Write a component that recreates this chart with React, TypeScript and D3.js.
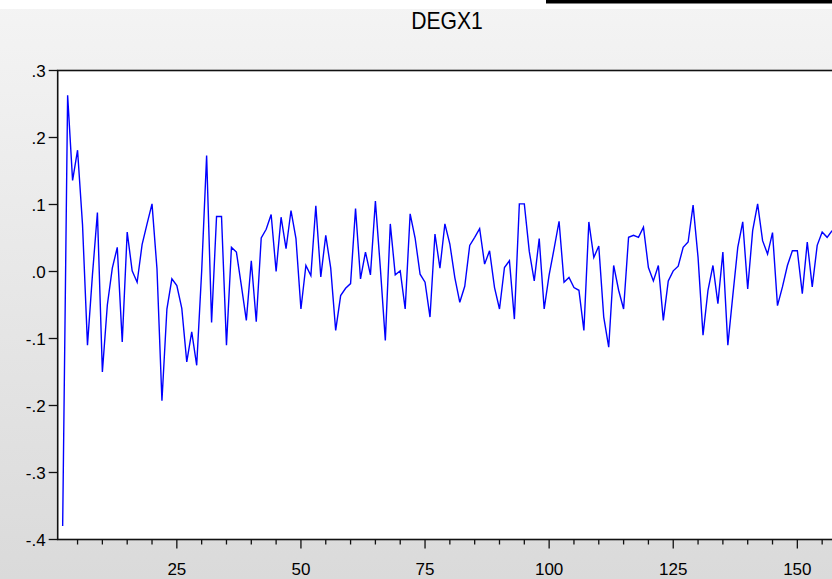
import React from "react";
import * as d3 from "d3";

// Series DEGX1, observations 2..157
const firstObs = 2;
const degx1: number[] = [
  -0.38, 0.263, 0.136, 0.181, 0.07, -0.11, -0.005, 0.088, -0.15, -0.05,
  0.005, 0.036, -0.105, 0.059, 0.001, -0.016, 0.04, 0.071, 0.101, 0.004,
  -0.193, -0.056, -0.011, -0.021, -0.055, -0.135, -0.09, -0.14, 0.0, 0.173,
  -0.076, 0.082, 0.082, -0.11, 0.036, 0.029, -0.021, -0.073, 0.016, -0.075,
  0.05, 0.063, 0.085, 0.0, 0.081, 0.034, 0.091, 0.049, -0.056, 0.009,
  -0.006, 0.098, -0.008, 0.054, 0.005, -0.088, -0.036, -0.025, -0.018, 0.094,
  -0.011, 0.029, -0.005, 0.105, 0.005, -0.103, 0.071, -0.005, 0.001, -0.056,
  0.086, 0.05, -0.004, -0.016, -0.068, 0.056, 0.005, 0.071, 0.041, -0.009,
  -0.046, -0.022, 0.039, 0.051, 0.064, 0.011, 0.031, -0.024, -0.056, 0.006,
  0.016, -0.071, 0.101, 0.101, 0.03, -0.014, 0.049, -0.056, -0.005, 0.034,
  0.075, -0.016, -0.009, -0.024, -0.028, -0.088, 0.074, 0.021, 0.038, -0.068,
  -0.113, 0.009, -0.028, -0.056, 0.051, 0.054, 0.051, 0.066, 0.006, -0.014,
  0.009, -0.073, -0.014, 0.001, 0.008, 0.036, 0.044, 0.099, 0.021, -0.095,
  -0.028, 0.009, -0.048, 0.029, -0.11, -0.036, 0.036, 0.074, -0.026, 0.061,
  0.101, 0.046, 0.026, 0.058, -0.051, -0.023, 0.009, 0.031, 0.031, -0.033,
  0.044, -0.023, 0.039, 0.059, 0.051, 0.061,
];

const yTicks = [0.3, 0.2, 0.1, 0.0, -0.1, -0.2, -0.3, -0.4];
const xMajorTicks = [25, 50, 75, 100, 125, 150];
const title = "DEGX1";

const W = 832;
const H = 579;

export default function App() {
  const x = d3.scaleLinear().domain([1, 165]).range([57.7, 871.8]);
  const y = d3.scaleLinear().domain([-0.4, 0.3]).range([539.5, 70.5]);

  const pts = degx1.map((v, i) => [firstObs + i, v] as [number, number]);
  const line = d3
    .line<[number, number]>()
    .x((d) => x(d[0]))
    .y((d) => y(d[1]));

  const minorTicks = d3.range(5, 166, 5).filter((t) => t % 25 !== 0);
  const fmt = (v: number) => {
    const s = Math.abs(v).toFixed(1).replace(/^0/, "");
    return v < -1e-9 ? "-" + s : s;
  };

  const x0 = x(1);
  const x1 = x(165);
  const yTop = y(0.3);
  const yBot = y(-0.4);
  const font = "'Liberation Sans', Arial, sans-serif";

  return (
    <div style={{ position: "fixed", left: 0, top: 0, width: W, height: H, overflow: "hidden" }}>
      <svg width={W} height={H} style={{ display: "block" }}>
        <defs>
          <linearGradient id="bg" x1="0" y1="0" x2="0" y2="1">
            <stop offset="0" stopColor="#f4f4f4" />
            <stop offset="1" stopColor="#dadada" />
          </linearGradient>
          <clipPath id="plotClip">
            <rect x={x0} y={yTop} width={x1 - x0} height={yBot - yTop} />
          </clipPath>
        </defs>
        <rect x={0} y={0} width={W} height={H} fill="url(#bg)" />
        <rect x={0} y={0} width={W} height={9} fill="#ffffff" />
        <rect x={546} y={0} width={W - 546} height={3.5} fill="#000000" />

        <text
          x={447}
          y={29}
          textAnchor="middle"
          fontFamily={font}
          fontSize={23}
          fill="#000"
          transform="translate(447 0) scale(0.92 1) translate(-447 0)"
        >
          {title}
        </text>

        <rect x={x0} y={yTop} width={x1 - x0} height={yBot - yTop} fill="#ffffff" />

        <g clipPath="url(#plotClip)">
          <path d={line(pts) ?? ""} fill="none" stroke="#0000ff" strokeWidth={1.4} />
        </g>

        <rect
          x={x0}
          y={yTop}
          width={x1 - x0}
          height={yBot - yTop}
          fill="none"
          stroke="#111"
          strokeWidth={1.6}
        />

        {yTicks.map((t) => (
          <g key={"y" + t}>
            <line x1={x0 - 9} x2={x0} y1={y(t)} y2={y(t)} stroke="#111" strokeWidth={1.3} />
            <text
              x={x0 - 12}
              y={y(t)}
              dy="0.36em"
              textAnchor="end"
              fontFamily={font}
              fontSize={17}
              fill="#000"
            >
              {fmt(t)}
            </text>
          </g>
        ))}

        {minorTicks.map((t) => (
          <line key={"m" + t} x1={x(t)} x2={x(t)} y1={yBot} y2={yBot + 5} stroke="#111" strokeWidth={1.3} />
        ))}
        {xMajorTicks.map((t) => (
          <g key={"x" + t}>
            <line x1={x(t)} x2={x(t)} y1={yBot} y2={yBot + 9} stroke="#111" strokeWidth={1.3} />
            <text x={x(t)} y={yBot + 35} textAnchor="middle" fontFamily={font} fontSize={17} fill="#000">
              {t}
            </text>
          </g>
        ))}
      </svg>
    </div>
  );
}
